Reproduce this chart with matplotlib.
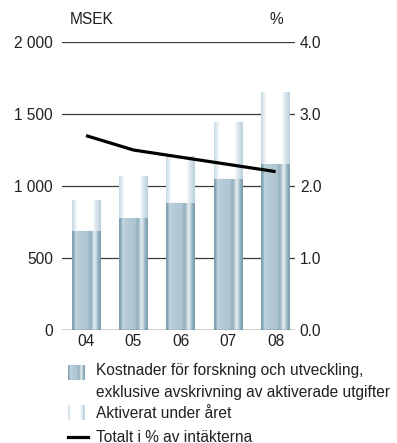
import numpy as np
import matplotlib
matplotlib.use("Agg")
import matplotlib.pyplot as plt
from matplotlib.colors import LinearSegmentedColormap
from matplotlib.lines import Line2D

plt.rcParams['font.family'] = ['Liberation Sans', 'DejaVu Sans']

# --- data -------------------------------------------------------------
years = ["04", "05", "06", "07", "08"]
kostnader = [690, 780, 885, 1050, 1155]        # MSEK, excl. amortisation
aktiverat = [210, 285, 320, 395, 495]          # MSEK capitalised during year
andel_pct = [2.7, 2.5, 2.4, 2.3, 2.2]          # % of revenue
msek_ticks = [0, 500, 1000, 1500, 2000]
msek_labels = ["0", "500", "1 000", "1 500", "2 000"]
pct_ticks = [0, 1, 2, 3, 4]
pct_labels = ["0.0", "1.0", "2.0", "3.0", "4.0"]

W, H = 397, 443
TXT = "#231f20"
FS = 11.2


def fx(x):
    return x / W


def fy(y):
    return 1 - y / H


# striped shading across each bar
cost_cmap = LinearSegmentedColormap.from_list("cost", [
    (0.00, "#7a9db0"), (0.06, "#8aabbc"), (0.12, "#c3d6df"),
    (0.22, "#b6ccd7"), (0.55, "#afc6d2"), (0.63, "#93b1c1"),
    (0.70, "#a9c2ce"), (0.77, "#e8eff3"), (0.84, "#c9dae2"),
    (0.92, "#8fafbf"), (1.00, "#7b9eb1")])
cap_cmap = LinearSegmentedColormap.from_list("cap", [
    (0.00, "#c5d8e1"), (0.06, "#d9e6ed"), (0.13, "#eef4f7"),
    (0.19, "#ffffff"), (0.72, "#ffffff"), (0.78, "#eaf1f5"),
    (0.88, "#d2e1e9"), (1.00, "#bcd1dc")])
grad = np.linspace(0, 1, 64)[np.newaxis, :]

fig = plt.figure(figsize=(W / 100, H / 100), dpi=100)
ax = fig.add_axes([fx(62), fy(330), (295 - 62) / W, (330 - 42) / H])

x = np.arange(len(years))
bw = 0.61
for t in msek_ticks:
    ax.axhline(t, color="#3a3a3a", lw=0.9, zorder=1)

cost_bars = ax.bar(x, kostnader, width=bw, color="none", zorder=2)
cap_bars = ax.bar(x, aktiverat, width=bw, bottom=kostnader, color="none", zorder=2)
for bars, cmap in ((cost_bars, cost_cmap), (cap_bars, cap_cmap)):
    for r in bars:
        x0, y0, w, h = r.get_x(), r.get_y(), r.get_width(), r.get_height()
        ax.imshow(grad, cmap=cmap, extent=[x0, x0 + w, y0, y0 + h],
                  aspect="auto", interpolation="bilinear", zorder=2)

ax.axhline(0, color="#3a3a3a", lw=0.9, zorder=3)
ax.set_xlim(-0.507, 4.41)
ax.set_ylim(0, 2000)
ax.set_xticks(x, years)
ax.set_yticks(msek_ticks, msek_labels)
ax.tick_params(axis="both", length=0, colors=TXT, labelsize=FS)
ax.tick_params(axis="y", pad=6.5)
ax.tick_params(axis="x", pad=3)
for s in ax.spines.values():
    s.set_visible(False)

ax2 = ax.twinx()
ax2.plot(x, andel_pct, color="black", lw=2.3, solid_capstyle="butt", zorder=5)
ax2.set_ylim(0, 4)
ax2.set_yticks(pct_ticks, pct_labels)
ax2.tick_params(axis="y", length=0, colors=TXT, labelsize=FS, pad=3.5)
for s in ax2.spines.values():
    s.set_visible(False)

fig.text(fx(70), fy(20), "MSEK", fontsize=FS, color=TXT, va="center", ha="left")
fig.text(fx(276), fy(20), "%", fontsize=FS, color=TXT, va="center", ha="center")

# legend
for cmap, (y0, y1) in ((cost_cmap, (365, 380)), (cap_cmap, (405, 420))):
    lax = fig.add_axes([fx(68), fy(y1), 17 / W, (y1 - y0) / H])
    lax.imshow(grad, cmap=cmap, aspect="auto", interpolation="bilinear")
    lax.axis("off")
fig.add_artist(Line2D([fx(68), fx(88)], [fy(437), fy(437)], color="black",
                      lw=2.3, transform=fig.transFigure))

legend_lines = [
    (371, "Kostnader för forskning och utveckling,"),
    (393, "exklusive avskrivning av aktiverade utgifter"),
    (414, "Aktiverat under året"),
    (437, "Totalt i % av intäkterna"),
]
for yy, txt in legend_lines:
    fig.text(fx(96), fy(yy), txt, fontsize=FS, color=TXT, va="center", ha="left")

fig.savefig("out.png", dpi=100)
